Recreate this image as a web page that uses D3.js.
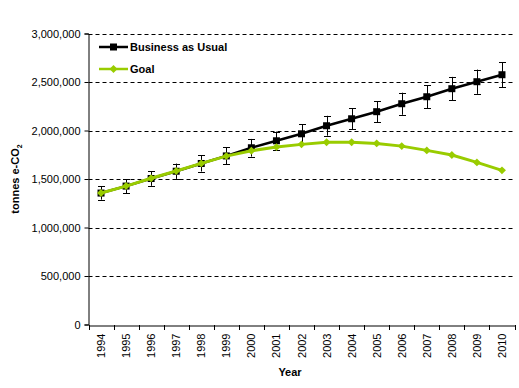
<!DOCTYPE html>
<html>
<head>
<meta charset="utf-8">
<script src="https://cdn.jsdelivr.net/npm/d3@7"></script>
<style>
  body { margin: 0; background: #fff; }
  svg { display: block; font-family: Arial, "Liberation Sans", sans-serif; }
</style>
</head>
<body>
<svg width="519" height="388"></svg>
<script>
const years = ["1994","1995","1996","1997","1998","1999","2000","2001","2002",
  "2003","2004","2005","2006","2007","2008","2009","2010"];
const businessAsUsual = [1355000, 1427000, 1505000, 1580000, 1660000, 1738000, 1822000,
  1894000, 1966000, 2049000, 2121000, 2194000, 2276000, 2348000, 2431000, 2503000, 2575000];
const goal = [1355000, 1427000, 1508000, 1582000, 1661000, 1736000, 1791000,
  1829000, 1857000, 1878000, 1878000, 1867000, 1839000, 1795000, 1747000, 1671000, 1589000];
const yTicks = [0, 500000, 1000000, 1500000, 2000000, 2500000, 3000000];
const errorPct = 0.05;

const margin = { left: 88.5, right: 4.5, top: 33.5, bottom: 63.5 };
const width = 519, height = 388;

const svg = d3.select("svg");

const x = d3.scaleBand()
  .domain(years)
  .range([margin.left, width - margin.right]);

const y = d3.scaleLinear()
  .domain([0, 3000000])
  .range([height - margin.bottom, margin.top]);

const cx = d => x(d) + x.bandwidth() / 2;

// gridlines
svg.append("g")
  .selectAll("line")
  .data(yTicks.filter(d => d > 0))
  .join("line")
  .attr("x1", margin.left)
  .attr("x2", width - margin.right)
  .attr("y1", d => Math.round(y(d)) + 0.5)
  .attr("y2", d => Math.round(y(d)) + 0.5)
  .attr("stroke", "#000")
  .attr("stroke-dasharray", "4,3");

// y axis
const yAxis = svg.append("g")
  .attr("transform", `translate(${margin.left},0)`)
  .call(d3.axisLeft(y).tickValues(yTicks).tickSize(4).tickPadding(4)
    .tickFormat(d3.format(",")));
yAxis.select(".domain").attr("stroke", "#000");
yAxis.selectAll("text").attr("font-size", 11).attr("fill", "#000")
  .attr("font-family", "Arial, 'Liberation Sans', sans-serif");

// x axis
const xAxis = svg.append("g")
  .attr("transform", `translate(0,${Math.round(y(0)) + 0.5})`)
  .call(d3.axisBottom(x).tickSize(0).tickFormat(""));
xAxis.select(".domain").attr("stroke", "#000");

svg.append("g")
  .selectAll("line")
  .data(years.concat(["end"]))
  .join("line")
  .attr("x1", (d, i) => Math.round(margin.left + i * x.bandwidth()) + 0.5)
  .attr("x2", (d, i) => Math.round(margin.left + i * x.bandwidth()) + 0.5)
  .attr("y1", Math.round(y(0)))
  .attr("y2", Math.round(y(0)) + 5)
  .attr("stroke", "#000");

svg.append("g")
  .selectAll("text")
  .data(years)
  .join("text")
  .attr("transform", d => `translate(${cx(d) + 4},${y(0) + 9}) rotate(-90)`)
  .attr("text-anchor", "end")
  .attr("font-size", 11)
  .text(d => d);

// axis titles
svg.append("text")
  .attr("x", 290)
  .attr("y", 376)
  .attr("text-anchor", "middle")
  .attr("font-weight", "bold")
  .attr("font-size", 11)
  .text("Year");

const yTitle = svg.append("text")
  .attr("transform", `translate(19,${(margin.top + y(0)) / 2}) rotate(-90)`)
  .attr("text-anchor", "middle")
  .attr("font-weight", "bold")
  .attr("font-size", 11);
yTitle.append("tspan").text("tonnes e-CO");
yTitle.append("tspan").attr("font-size", 7).attr("dy", 3).text("2");

// Business as usual: error bars, line, markers
const bau = years.map((d, i) => ({ year: d, value: businessAsUsual[i] }));
const goalData = years.map((d, i) => ({ year: d, value: goal[i] }));

const err = svg.append("g").attr("stroke", "#000").attr("stroke-width", 1);
err.selectAll("line.v")
  .data(bau)
  .join("line")
  .attr("class", "v")
  .attr("x1", d => Math.round(cx(d.year)) + 0.5)
  .attr("x2", d => Math.round(cx(d.year)) + 0.5)
  .attr("y1", d => y(d.value * (1 + errorPct)))
  .attr("y2", d => y(d.value * (1 - errorPct)));
[1 + errorPct, 1 - errorPct].forEach(f => {
  err.append("g").selectAll("line")
    .data(bau)
    .join("line")
    .attr("x1", d => Math.round(cx(d.year)) - 3)
    .attr("x2", d => Math.round(cx(d.year)) + 4)
    .attr("y1", d => Math.round(y(d.value * f)) + 0.5)
    .attr("y2", d => Math.round(y(d.value * f)) + 0.5);
});

const line = d3.line()
  .x(d => cx(d.year))
  .y(d => y(d.value));

svg.append("path")
  .datum(bau)
  .attr("fill", "none")
  .attr("stroke", "#000")
  .attr("stroke-width", 2.5)
  .attr("d", line);

svg.append("g")
  .selectAll("rect")
  .data(bau)
  .join("rect")
  .attr("x", d => cx(d.year) - 3.5)
  .attr("y", d => y(d.value) - 3.5)
  .attr("width", 7)
  .attr("height", 7)
  .attr("fill", "#000");

// Goal line + diamond markers
const green = "#99cc00";
svg.append("path")
  .datum(goalData)
  .attr("fill", "none")
  .attr("stroke", green)
  .attr("stroke-width", 3)
  .attr("d", line);

const diamond = d3.symbol().type(d3.symbolDiamond2).size(40);
svg.append("g")
  .selectAll("path")
  .data(goalData)
  .join("path")
  .attr("transform", d => `translate(${cx(d.year)},${y(d.value)})`)
  .attr("d", diamond)
  .attr("fill", green);

// legend
const legend = svg.append("g").attr("font-size", 11).attr("font-weight", "bold");
const legendItems = [
  { name: "Business as Usual", color: "#000", marker: "square", y: 47 },
  { name: "Goal", color: green, marker: "diamond", y: 69 }
];
legendItems.forEach(item => {
  legend.append("line")
    .attr("x1", 99).attr("x2", 128)
    .attr("y1", item.y).attr("y2", item.y)
    .attr("stroke", item.color).attr("stroke-width", 2.5);
  if (item.marker === "square") {
    legend.append("rect")
      .attr("x", 110).attr("y", item.y - 3.5)
      .attr("width", 7).attr("height", 7)
      .attr("fill", item.color);
  } else {
    legend.append("path")
      .attr("transform", `translate(113.5,${item.y})`)
      .attr("d", diamond)
      .attr("fill", item.color);
  }
  legend.append("text")
    .attr("x", 130)
    .attr("y", item.y + 4)
    .text(item.name);
});
</script>
</body>
</html>
